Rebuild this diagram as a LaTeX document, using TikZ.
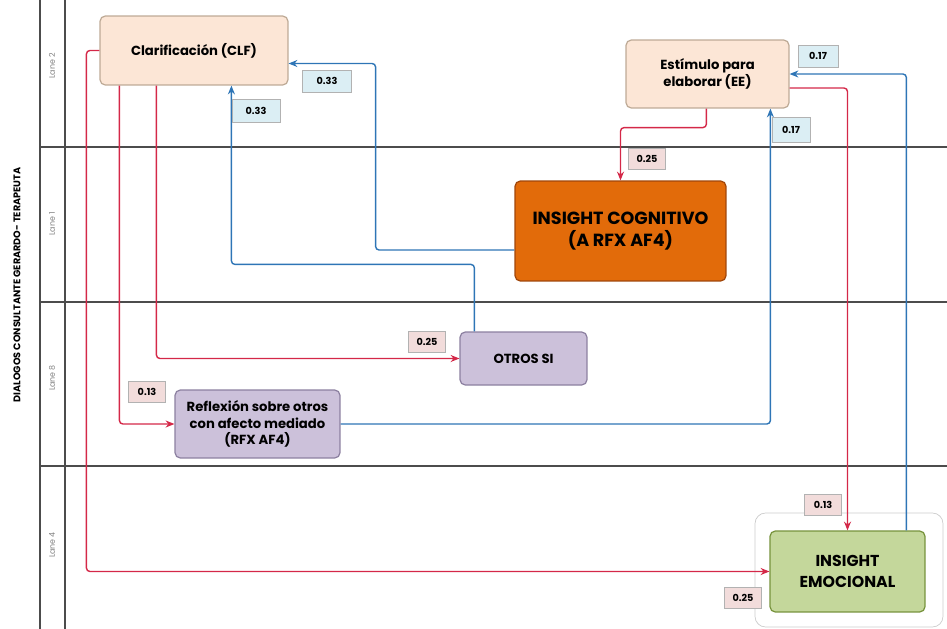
\documentclass[tikz,border=0pt]{standalone}
\usepackage{fontspec}
\setmainfont{Poppins}
\usetikzlibrary{positioning,calc,arrows.meta}

\definecolor{melocoton}{RGB}{252,230,214}
\definecolor{bordemel}{RGB}{190,170,150}
\definecolor{naranja}{RGB}{226,107,10}
\definecolor{bordenar}{RGB}{160,70,10}
\definecolor{lila}{RGB}{204,193,218}
\definecolor{bordelila}{RGB}{140,128,160}
\definecolor{verde}{RGB}{196,215,155}
\definecolor{bordever}{RGB}{119,147,60}
\definecolor{rojo}{RGB}{212,40,72}
\definecolor{azul}{RGB}{46,117,182}
\definecolor{rosa}{RGB}{242,220,219}
\definecolor{celeste}{RGB}{219,238,244}

\begin{document}
\begin{tikzpicture}[x=0.02cm, y=-0.02cm,
	caja/.style={draw, rounded corners=3pt, align=center, line width=0.7pt, inner sep=2pt,
		font=\bfseries\fontsize{7.5}{9.5}\selectfont},
	etiq/.style={draw=gray!60, line width=0.5pt, minimum width=0.74cm, minimum height=0.42cm,
		inner sep=1pt, font=\bfseries\fontsize{5.5}{6}\selectfont},
	flecharoja/.style={draw=rojo, line width=0.8pt, rounded corners=2pt, -{Stealth[length=5pt,width=4pt]}},
	flechaazul/.style={draw=azul, line width=0.8pt, rounded corners=2pt, -{Stealth[length=5pt,width=4pt]}},
	carril/.style={rotate=90, text=gray, font=\fontsize{4.5}{5}\selectfont}]
	\useasboundingbox (0,0) rectangle (947,629);

	% carriles
	\draw[color=black!70, line width=0.6pt] (40,0) -- (40,629);
	\draw[color=black!70, line width=0.6pt] (65,0) -- (65,629);
	\draw[color=black!70, line width=0.6pt] (40,147) -- (947,147);
	\draw[color=black!70, line width=0.6pt] (40,302) -- (947,302);
	\draw[color=black!70, line width=0.6pt] (40,466) -- (947,466);

	\node[rotate=90, font=\bfseries\fontsize{5.5}{6}\selectfont] (titulo) at (17,285) {DIALOGOS CONSULTANTE GERARDO- TERAPEUTA};
	\node[carril] (lane2) at (52,66) {Lane 2};
	\node[carril] (lane1) at (52,224) {Lane 1};
	\node[carril] (lane8) at (52,378) {Lane 8};
	\node[carril] (lane4) at (52,545) {Lane 4};

	% cajas
	\node[draw=gray!40, fill=white, rounded corners=6pt, minimum width=3.76cm, minimum height=2.28cm] (fondoie) at (849,570) {};
	\node[caja, fill=melocoton, draw=bordemel, minimum width=3.76cm, minimum height=1.38cm] (clf) at (194,50.5) {Clarificación (CLF)};
	\node[caja, fill=melocoton, draw=bordemel, minimum width=3.26cm, minimum height=1.36cm] (ee) at (707.5,74) {Estímulo para\\elaborar (EE)};
	\node[caja, fill=naranja, draw=bordenar, minimum width=4.22cm, minimum height=2cm,
		font=\bfseries\fontsize{10}{12.5}\selectfont] (ic) at (620.5,231) {INSIGHT COGNITIVO\\(A RFX AF4)};
	\node[caja, fill=lila, draw=bordelila, minimum width=2.54cm, minimum height=1.06cm] (otros) at (523.5,358.5) {OTROS SI};
	\node[caja, fill=lila, draw=bordelila, minimum width=3.3cm, minimum height=1.36cm] (rfx) at (257.5,424) {Reflexión sobre otros\\con afecto mediado\\(RFX AF4)};
	\node[caja, fill=verde, draw=bordever, minimum width=3.1cm, minimum height=1.62cm,
		font=\bfseries\fontsize{9}{11.5}\selectfont] (ie) at (847.5,571.5) {INSIGHT\\EMOCIONAL};

	% conexiones rojas
	\draw[flecharoja] (clf.west) -- ++(-13,0) |- (ie.west);
	\draw[flecharoja] ($(clf.south west)+(20,0)$) |- (rfx.west);
	\draw[flecharoja] ($(clf.south west)+(57,0)$) |- (otros.west);
	\draw[flecharoja] ($(ee.south west)+(81,0)$) -- ++(0,19) -| (ic.north);
	\draw[flecharoja] ($(ee.east)+(0,14)$) -| (ie.north);

	% conexiones azules
	\draw[flechaazul] ($(ic.west)+(0,19)$) -| ($(clf.east)+(87,13)$) -- ($(clf.east)+(0,13)$);
	\draw[flechaazul] ($(otros.north west)+(15,0)$) -- ++(0,-67) -| ($(clf.south west)+(132,0)$);
	\draw[flechaazul] (rfx.east) -| ($(ee.south west)+(145,0)$);
	\draw[flechaazul] ($(ie.north west)+(137,0)$) |- (ee.east);

	% probabilidades
	\node[etiq, fill=celeste, minimum width=0.98cm, minimum height=0.44cm] (p1) at (327,81) {0.33};
	\node[etiq, fill=celeste, minimum width=0.96cm, minimum height=0.46cm] (p2) at (256,111) {0.33};
	\node[etiq, fill=celeste, minimum width=0.8cm, minimum height=0.44cm] (p3) at (818,56) {0.17};
	\node[etiq, fill=celeste, minimum width=0.76cm, minimum height=0.5cm] (p4) at (791,130) {0.17};
	\node[etiq, fill=rosa] (p5) at (647,159) {0.25};
	\node[etiq, fill=rosa] (p6) at (427,342) {0.25};
	\node[etiq, fill=rosa] (p7) at (147,392) {0.13};
	\node[etiq, fill=rosa] (p8) at (823,505) {0.13};
	\node[etiq, fill=rosa] (p9) at (743,598) {0.25};
\end{tikzpicture}
\end{document}
